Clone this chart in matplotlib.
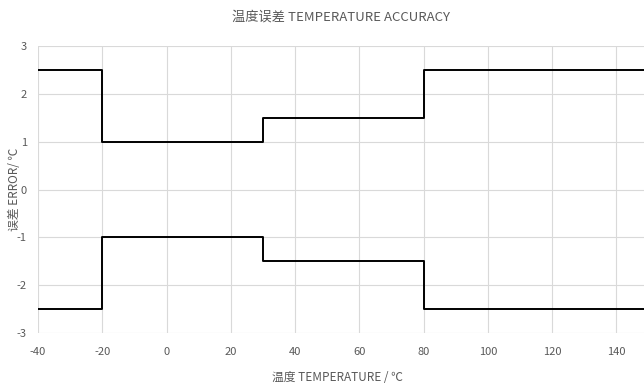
import matplotlib.pyplot as plt

plt.rcParams['font.family'] = ['Noto Sans CJK SC', 'DejaVu Sans']
plt.rcParams['axes.unicode_minus'] = False

# 温度分段点及误差上下限
temp_points = [-40, -20, 30, 80, 150]
upper_err = [2.5, 1.0, 1.5, 2.5, 2.5]
lower_err = [-2.5, -1.0, -1.5, -2.5, -2.5]
x_ticks = [-40, -20, 0, 20, 40, 60, 80, 100, 120, 140]
y_ticks = [-3, -2, -1, 0, 1, 2, 3]

grey = '#595959'
fig = plt.figure(figsize=(6.44, 3.87), dpi=100)
ax = fig.add_axes([0.059, 0.1395, 0.948, 0.7415])

ax.step(temp_points, upper_err, where='post', color='black', linewidth=1.4)
ax.step(temp_points, lower_err, where='post', color='black', linewidth=1.4)

ax.set_xlim(-40, 150)
ax.set_ylim(-3, 3)
ax.set_xticks(x_ticks)
ax.set_yticks(y_ticks)
ax.grid(True, color='#d9d9d9', linewidth=0.8)
ax.set_axisbelow(True)
for s in ax.spines.values():
    s.set_visible(False)
ax.tick_params(length=0, labelsize=8, colors=grey)
ax.tick_params(axis='x', pad=10)
ax.tick_params(axis='y', pad=8)

fig.text(0.53, 0.955, '温度误差 TEMPERATURE ACCURACY', ha='center', va='center',
         fontsize=9.5, color=grey)
ax.set_xlabel('温度 TEMPERATURE / ℃', fontsize=8.5, color=grey)
ax.set_ylabel('误差 ERROR/ ℃', fontsize=8.5, color=grey)
ax.xaxis.set_label_coords(0.49, -0.133)
ax.yaxis.set_label_coords(-0.028, 0.5)

plt.savefig('out.png', dpi=100)
